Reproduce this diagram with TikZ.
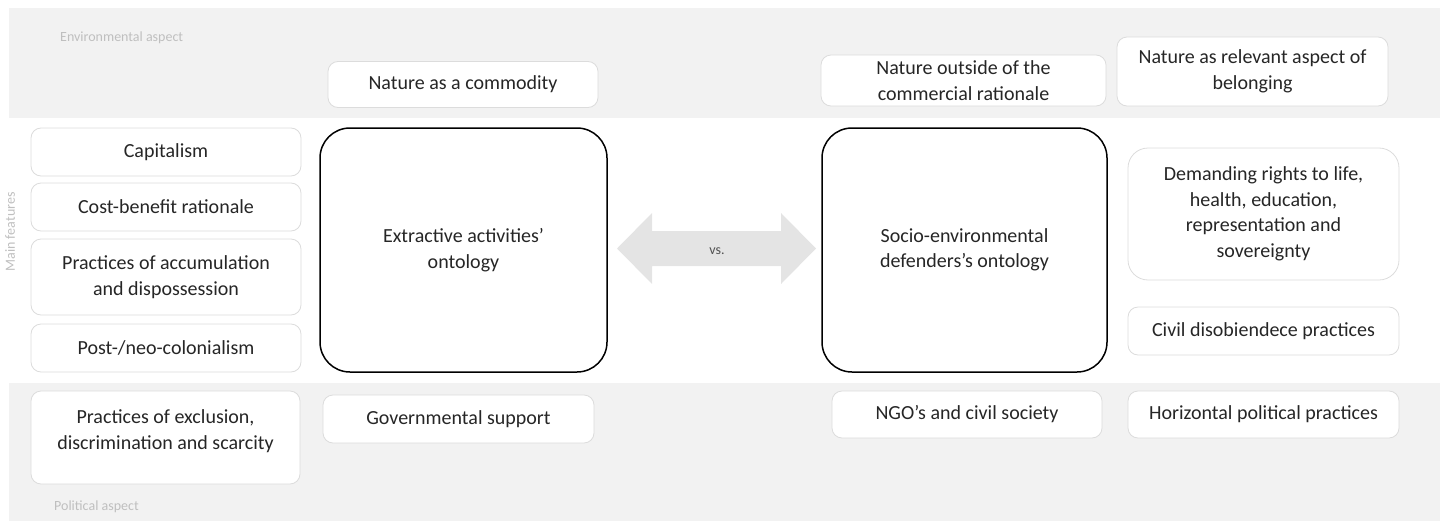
\documentclass[tikz,border=0pt]{standalone}
\usepackage{fontspec}
\setmainfont{Carlito}
\usepackage{tikz}
\usetikzlibrary{positioning}

\definecolor{bandgray}{HTML}{F2F2F2}
\definecolor{boxline}{HTML}{DCDCDC}
\definecolor{arrowgray}{HTML}{E4E4E4}
\definecolor{labelgray}{HTML}{BFBFBF}
\definecolor{textdark}{HTML}{262626}

\begin{document}
\begin{tikzpicture}[x=1pt,y=-1pt,
    feature/.style={draw=boxline,line width=0.8pt,fill=white,rounded corners=10pt,
        inner sep=0pt,align=center,text=textdark,
        font=\fontsize{20}{25.5}\selectfont},
    ontology/.style={draw=black,line width=1.5pt,fill=white,rounded corners=30pt,
        inner sep=0pt,align=center,text=textdark,
        font=\fontsize{20}{25.5}\selectfont},
    aspect/.style={text=labelgray,inner sep=0pt,font=\fontsize{14}{16}\selectfont}]
    \useasboundingbox (0,0) rectangle (1448,522);
    % grey bands, environmental on top and political at the bottom
    \fill[bandgray] (9,8) rectangle (1440,118);
    \fill[bandgray] (9,383) rectangle (1440,521);
    \node[aspect,anchor=west] (envlabel) at (60,38) {Environmental aspect};
    \node[aspect,anchor=west] (pollabel) at (54,507) {Political aspect};
    \node[aspect,rotate=90] (mainlabel) at (10,232) {Main features};

    % the two ontologies
    \node[ontology,minimum width=287,minimum height=244] (extractive) at (463.5,250)
        {Extractive activities’\\ontology};
    \node[ontology,minimum width=285,minimum height=244] (socio) at (964.5,250)
        {Socio-environmental\\defenders’s ontology};

    % vs. arrow
    \fill[arrowgray] (617,248.5) -- (652,213) -- (652,231) -- (781,231) -- (781,213)
        -- (816,248.5) -- (781,284) -- (781,266) -- (652,266) -- (652,284) -- cycle;
    \node[text=textdark!80,font=\fontsize{14}{16}\selectfont] (versus) at (717,251) {vs.};

    % left column
    \node[feature,minimum width=270,minimum height=48] (capitalism) at (166,152) {Capitalism};
    \node[feature,minimum width=270,minimum height=48] (costbenefit) at (166,207) {Cost-benefit rationale};
    \node[feature,minimum width=270,minimum height=76] (accumulation) at (166,277)
        {Practices of accumulation\\and dispossession};
    \node[feature,minimum width=270,minimum height=48] (colonialism) at (166,348) {Post-/neo-colonialism};

    % environmental aspect
    \node[feature,minimum width=270,minimum height=46] (commodity) at (463,84.5) {Nature as a commodity};
    \node[feature,minimum width=285,minimum height=51] (outside) at (963.5,80.5)
        {Nature outside of the\\commercial rationale};
    \node[feature,minimum width=271,minimum height=69] (belonging) at (1252.5,71.5)
        {Nature as relevant aspect of\\belonging};

    % right column
    \node[feature,rounded corners=20pt,minimum width=271,minimum height=132] (rights) at (1263.5,214)
        {Demanding rights to life,\\health, education,\\representation and\\sovereignty};
    \node[feature,minimum width=271,minimum height=48] (civil) at (1263.5,331) {Civil disobiendece practices};

    % political aspect
    \node[feature,minimum width=269,minimum height=93] (exclusion) at (165.5,437.5)
        {Practices of exclusion,\\discrimination and scarcity\\[-10pt]};
    \node[feature,minimum width=271,minimum height=48] (governmental) at (458.5,419) {Governmental support};
    \node[feature,minimum width=270,minimum height=47] (ngo) at (967,414.5) {NGO’s and civil society};
    \node[feature,minimum width=271,minimum height=47] (horizontal) at (1263.5,414.5) {Horizontal political practices};
\end{tikzpicture}
\end{document}
